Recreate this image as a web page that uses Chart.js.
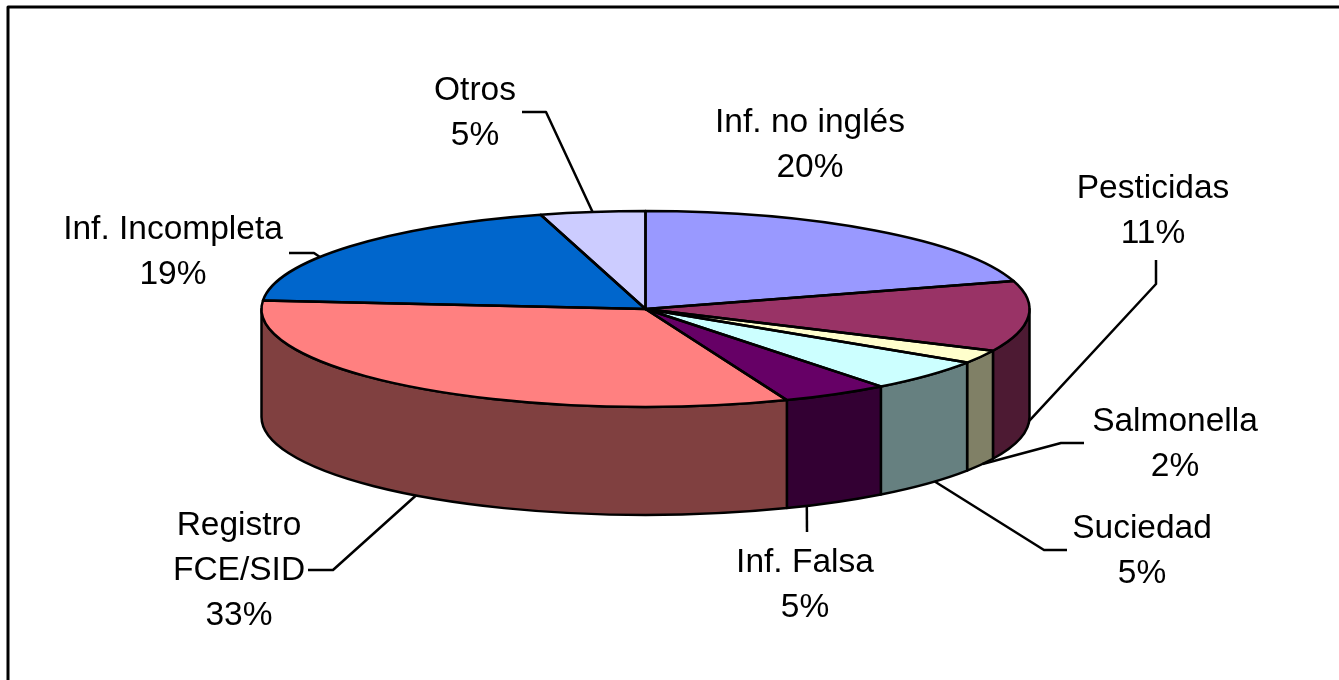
<!DOCTYPE html>
<html>
<head>
<meta charset="utf-8">
<title>Motivos de rechazo</title>
<style>
  html, body { margin: 0; padding: 0; background: #fff; }
  canvas { display: block; }
</style>
<script src="https://cdn.jsdelivr.net/npm/chart.js@4/dist/chart.umd.min.js"></script>
</head>
<body>
<canvas id="pieChart" width="1339" height="680"></canvas>
<script>
const categories = ['Inf. no inglés', 'Pesticidas', 'Salmonella', 'Suciedad', 'Inf. Falsa', 'Registro FCE/SID', 'Inf. Incompleta', 'Otros'];
const sliceValues = [20.4, 11.6, 2.2, 5.3, 4.5, 32.4, 19.2, 4.4];
const printedPercents = ['20%', '11%', '2%', '5%', '5%', '33%', '19%', '5%'];
const sliceColors = ['#9999FF', '#993366', '#FFFFCC', '#CCFFFF', '#660066', '#FF8080', '#0066CC', '#CCCCFF'];

const squash = 98 / 384;   // ellipse height / width of the top face
const wallDepth = 108;     // height of the side wall in pixels

// Label placement: text lines, centre x, baseline of first line, leader elbow points.
// "along" says where on the slice's edge the leader lands (0 = start, 1 = end).
const labelLayout = [
    { lines: ['Inf. no inglés'], x: 810, y: 132 },
    { lines: ['Pesticidas'], x: 1153, y: 198, along: 0.45, leader: [[1156, 260], [1156, 284]] },
    { lines: ['Salmonella'], x: 1175, y: 431, along: 0.43, leader: [[1084, 443], [1061, 443]] },
    { lines: ['Suciedad'], x: 1142, y: 538, along: 0.42, leader: [[1067, 550], [1044, 550]] },
    { lines: ['Inf. Falsa'], x: 805, y: 572, along: 0.8, leader: [[807, 532]] },
    { lines: ['Registro', 'FCE/SID'], x: 239, y: 535, along: 0.5, leader: [[308, 570], [333, 570]] },
    { lines: ['Inf. Incompleta'], x: 173, y: 239, along: 0.39, leader: [[289, 253], [314, 253]] },
    { lines: ['Otros'], x: 475, y: 100, along: 0.5, leader: [[522, 112], [546, 112]] }
];

function halfColor(hex) {
    const n = parseInt(hex.slice(1), 16);
    const r = (n >> 16) / 2, g = ((n >> 8) & 255) / 2, b = (n & 255) / 2;
    return `rgb(${r}, ${g}, ${b})`;
}

const pie3d = {
    id: 'pie3d',
    beforeDatasetsDraw(chart) {
        const ctx = chart.ctx;
        const arcs = chart.getDatasetMeta(0).data;
        const cx = arcs[0].x, cy = arcs[0].y;

        // Side wall for whatever part of each slice faces the viewer
        arcs.forEach((arc, i) => {
            const a0 = Math.max(arc.startAngle, 0);
            const a1 = Math.min(arc.endAngle, Math.PI);
            if (a1 <= a0) return;
            ctx.save();
            ctx.translate(cx, cy);
            ctx.scale(1, squash);
            ctx.beginPath();
            ctx.arc(0, 0, arc.outerRadius, a0, a1);
            ctx.arc(0, wallDepth / squash, arc.outerRadius, a1, a0, true);
            ctx.closePath();
            ctx.restore();
            ctx.fillStyle = halfColor(sliceColors[i]);
            ctx.fill();
            ctx.strokeStyle = '#000';
            ctx.lineWidth = 2.5;
            ctx.lineJoin = 'round';
            ctx.stroke();
        });

        // Squash the circle the library draws into the top face
        ctx.save();
        ctx.translate(cx, cy);
        ctx.scale(1, squash);
        ctx.translate(-cx, -cy);
    },
    afterDatasetsDraw(chart) {
        const ctx = chart.ctx;
        ctx.restore();

        const arcs = chart.getDatasetMeta(0).data;
        const cx = arcs[0].x, cy = arcs[0].y;

        // Outlines are stroked after the restore so the pen stays round
        arcs.forEach(arc => {
            ctx.save();
            ctx.translate(cx, cy);
            ctx.scale(1, squash);
            ctx.beginPath();
            ctx.moveTo(0, 0);
            ctx.arc(0, 0, arc.outerRadius, arc.startAngle, arc.endAngle);
            ctx.closePath();
            ctx.restore();
            ctx.strokeStyle = '#000';
            ctx.lineWidth = 2.5;
            ctx.lineJoin = 'round';
            ctx.stroke();
        });

        // Leader lines run from the elbow points to the slice's own edge
        labelLayout.forEach((label, i) => {
            if (!label.leader) return;
            const arc = arcs[i];
            const angle = arc.startAngle + (arc.endAngle - arc.startAngle) * label.along;
            const onFront = Math.sin(angle) > 0;
            const ex = cx + arc.outerRadius * Math.cos(angle);
            const ey = cy + arc.outerRadius * squash * Math.sin(angle) + (onFront ? wallDepth : 0);
            ctx.beginPath();
            label.leader.forEach((p, j) => j === 0 ? ctx.moveTo(p[0], p[1]) : ctx.lineTo(p[0], p[1]));
            ctx.lineTo(ex, ey);
            ctx.strokeStyle = '#000';
            ctx.lineWidth = 2.5;
            ctx.stroke();
        });
    },
    afterDraw(chart) {
        const ctx = chart.ctx;

        // Text labels with the printed percent as the last line
        ctx.fillStyle = '#000';
        ctx.font = '33.5px "Liberation Sans", Arial, sans-serif';
        ctx.textAlign = 'center';
        ctx.textBaseline = 'alphabetic';
        labelLayout.forEach((label, i) => {
            label.lines.concat(printedPercents[i]).forEach((line, j) => {
                ctx.fillText(line, label.x, label.y + j * 45);
            });
        });

        // Frame: only the left and top edges show in the picture
        ctx.strokeStyle = '#000';
        ctx.lineWidth = 3;
        ctx.beginPath();
        ctx.moveTo(8, 680);
        ctx.lineTo(8, 7);
        ctx.lineTo(1339, 7);
        ctx.stroke();
    }
};

new Chart(document.getElementById('pieChart').getContext('2d'), {
    type: 'pie',
    data: {
        labels: categories,
        datasets: [{
            data: sliceValues,
            backgroundColor: sliceColors,
            borderWidth: 0,
            radius: 384,
            clip: false
        }]
    },
    options: {
        responsive: false,
        animation: false,
        layout: { padding: { right: 48, bottom: 62 } },
        plugins: {
            legend: { display: false },
            tooltip: { enabled: false }
        }
    },
    plugins: [pie3d]
});
</script>
</body>
</html>
